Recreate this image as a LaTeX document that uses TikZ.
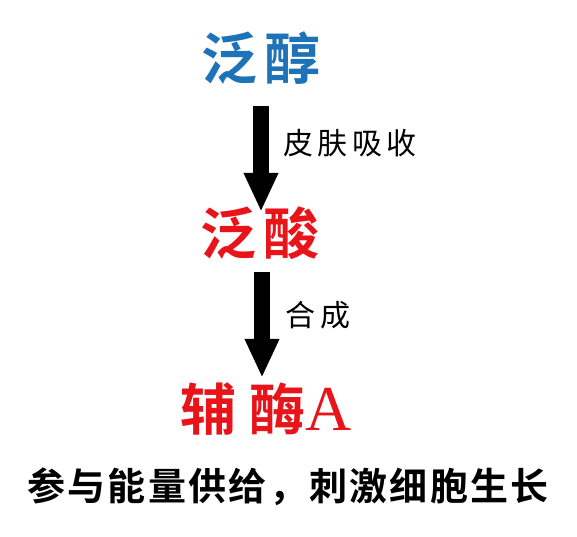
\documentclass[tikz,border=0pt]{standalone}
\usepackage{fontspec}
\usetikzlibrary{arrows.meta}
\setmainfont{Liberation Serif}
\newfontfamily\cjkgras{Noto Sans CJK SC Bold}
\newfontfamily\cjkfin{Noto Sans CJK SC}
\definecolor{bleufc}{RGB}{30,114,184}
\definecolor{rougefc}{RGB}{232,20,26}
\newcommand{\ecart}{12}
\tikzstyle{titre}=[inner sep=0pt,text height=44pt,text depth=8pt,
  font=\cjkgras\fontsize{56}{60}\selectfont\addfontfeature{LetterSpace=\ecart}]
\tikzstyle{etiq}=[inner sep=0pt,font=\cjkfin\fontsize{30}{34}\selectfont\addfontfeature{LetterSpace=15}]
\tikzstyle{bilan}=[inner sep=0pt,font=\cjkgras\fontsize{38}{42}\selectfont\addfontfeature{LetterSpace=6}]
\tikzstyle{fleche}=[line width=16pt,-{Triangle[length=39pt,width=32pt]}]

\begin{document}
\begin{tikzpicture}[x=1pt,y=-1pt]
\useasboundingbox (0,0) rectangle (577,536);

\node[titre,bleufc] (fanchun) at (261,61) {泛醇};
\node[titre,rougefc] (fansuan) at (260,236) {泛酸};
\node[titre,rougefc] (fumei) at (266,412) {\addfontfeature{LetterSpace=24}辅酶{\rmfamily\fontsize{64}{64}\selectfont A}};

\node[etiq] (pifu) at (350,143) {皮肤吸收};
\node[etiq] (hecheng) at (318,315) {合成};
\node[bilan] (role) at (288,487) {参与能量供给，刺激细胞生长};

\draw[fleche,shorten <=19pt,shorten >=-2pt] (fanchun.south) -- (fanchun.south |- fansuan.north);
\draw[fleche,shorten <=10pt,shorten >=8pt] ([xshift=2pt]fansuan.south) -- ([xshift=2pt]fansuan.south |- fumei.north);

\end{tikzpicture}
\end{document}
